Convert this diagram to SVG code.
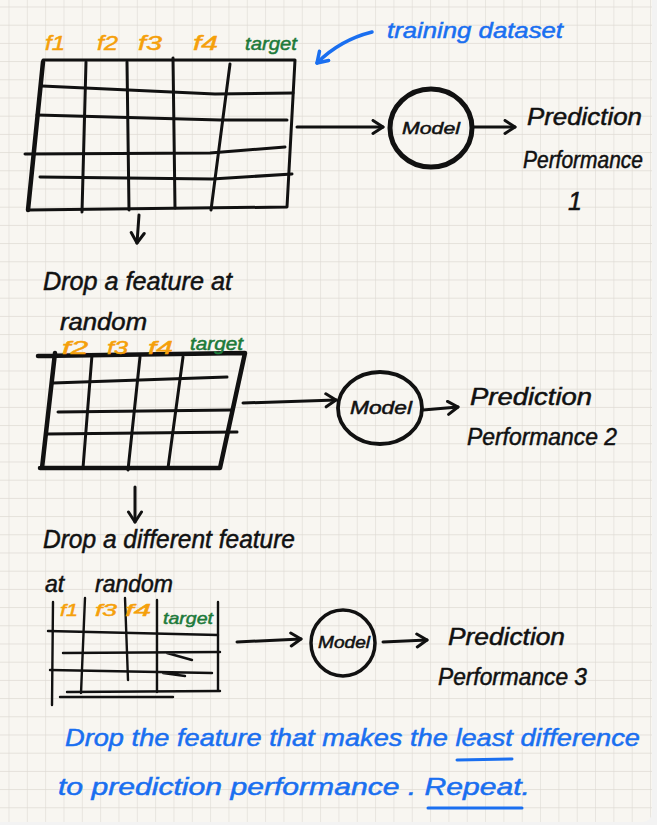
<svg xmlns="http://www.w3.org/2000/svg" width="657" height="825" viewBox="0 0 657 825">
<style>
.ink{fill:none;stroke:#111;stroke-width:3;stroke-linecap:round;stroke-linejoin:round}
.thick{stroke-width:4.5}
.thin{stroke-width:2.4}
.hw{font-family:"Liberation Sans","DejaVu Sans",sans-serif;font-style:italic;fill:#111;stroke:#111;stroke-width:0.5}
.org{fill:#f5a00a;stroke:#f5a00a}
.grn{fill:#1d7a3a;stroke:#1d7a3a}
.blu{fill:#1a6ff0;stroke:#1a6ff0}
.conn{fill:none;stroke:#111;stroke-width:3;stroke-linecap:round}
</style>
<defs>
<pattern id="grid" patternUnits="userSpaceOnUse" x="8.5" y="6.5" width="18.33" height="18.2">
<path d="M0 0H18.33M0 0V18.2" fill="none" stroke="#dedad3" stroke-width="1.2"/>
</pattern>
<marker id="ah" markerUnits="userSpaceOnUse" markerWidth="20" markerHeight="20" refX="12" refY="8" orient="auto">
<path d="M2 1.5L12 8L2 14.5" fill="none" stroke="#111" stroke-width="3" stroke-linecap="round" stroke-linejoin="round"/>
</marker>
<marker id="ahb" markerUnits="userSpaceOnUse" markerWidth="20" markerHeight="20" refX="12" refY="8" orient="auto">
<path d="M2 1.5L12 8L2 14.5" fill="none" stroke="#1a6ff0" stroke-width="3.5" stroke-linecap="round" stroke-linejoin="round"/>
</marker>
</defs>
<rect x="0" y="0" width="657" height="825" fill="#f3f3f3"/>
<rect x="-10" y="-10" width="662" height="832" rx="9" fill="#f8f6f1"/>
<rect x="-10" y="-10" width="662" height="832" rx="9" fill="url(#grid)"/>

<g id="table1">
<path class="ink thick" d="M43 62L28 210"/>
<path class="ink" d="M43 60L295 60L287 207L28 210"/>
<path class="ink" d="M86 62L82 212M127 62L129 210M173 58L175 208M230 64L211 210"/>
<path class="ink" d="M42 86L215 94L293 93M37 115L220 120L287 120M25 154L210 153L285 147M40 177L212 179L292 174"/>
<text class="hw org" x="45" y="50" font-size="21" textLength="20" lengthAdjust="spacingAndGlyphs">f1</text>
<text class="hw org" x="97" y="50" font-size="21" textLength="21" lengthAdjust="spacingAndGlyphs">f2</text>
<text class="hw org" x="138" y="50" font-size="21" textLength="24" lengthAdjust="spacingAndGlyphs">f3</text>
<text class="hw org" x="193" y="50" font-size="21" textLength="25" lengthAdjust="spacingAndGlyphs">f4</text>
<text class="hw grn" x="245" y="50" font-size="19" textLength="52" lengthAdjust="spacingAndGlyphs">target</text>
</g>

<g id="annotation">
<text class="hw blu" x="387" y="38" font-size="22" textLength="176" lengthAdjust="spacingAndGlyphs">training dataset</text>
</g>

<g id="model1">
<ellipse cx="431" cy="128" rx="41" ry="39" fill="none" stroke="#111" stroke-width="5"/>
<text class="hw" x="431" y="134" font-size="17" text-anchor="middle" textLength="58" lengthAdjust="spacingAndGlyphs">Model</text>
</g>

<g id="perf1">
<text class="hw" x="527" y="125" font-size="23" textLength="115" lengthAdjust="spacingAndGlyphs">Prediction</text>
<text class="hw" x="523" y="168" font-size="23" textLength="120" lengthAdjust="spacingAndGlyphs">Performance</text>
<text class="hw" x="575" y="210" font-size="25" text-anchor="middle">1</text>
</g>

<g id="step1">
<text class="hw" x="43" y="290" font-size="25" textLength="189" lengthAdjust="spacingAndGlyphs">Drop a feature at</text>
<text class="hw" x="60" y="330" font-size="23" textLength="87" lengthAdjust="spacingAndGlyphs">random</text>
</g>

<g id="table2">
<path class="ink thick" d="M38 356L245 353L220 468L40 468M55 353L42 468"/>
<path class="ink" d="M92 355L83 468M140 357L128 470M183 357L168 468"/>
<path class="ink" d="M53 383L227 377M58 412L232 410M47 434L237 432"/>
<text class="hw org" x="62" y="354" font-size="18" textLength="26" lengthAdjust="spacingAndGlyphs">f2</text>
<text class="hw org" x="107" y="354" font-size="18" textLength="21" lengthAdjust="spacingAndGlyphs">f3</text>
<text class="hw org" x="148" y="354" font-size="18" textLength="25" lengthAdjust="spacingAndGlyphs">f4</text>
<text class="hw grn" x="190" y="350" font-size="18" textLength="53" lengthAdjust="spacingAndGlyphs">target</text>
</g>

<g id="model2">
<ellipse cx="380" cy="408" rx="42" ry="36" fill="none" stroke="#111" stroke-width="3.8"/>
<text class="hw" x="381" y="414" font-size="18" text-anchor="middle" textLength="62" lengthAdjust="spacingAndGlyphs">Model</text>
</g>

<g id="perf2">
<text class="hw" x="470" y="405" font-size="23" textLength="122" lengthAdjust="spacingAndGlyphs">Prediction</text>
<text class="hw" x="467" y="445" font-size="23" textLength="150" lengthAdjust="spacingAndGlyphs">Performance 2</text>
</g>

<g id="step2">
<text class="hw" x="43" y="548" font-size="25" textLength="252" lengthAdjust="spacingAndGlyphs">Drop a different feature</text>
<text class="hw" x="45" y="592" font-size="23">at <tspan x="95">random</tspan></text>
</g>

<g id="table3">
<path class="ink thin" d="M53 602L52 705M85 598L81 693M125 598L128 680M157 600L157 692M218 602L218 690"/>
<path class="ink thin" d="M48 631L218 635M63 653L220 652M167 653L192 660M50 670L212 673M163 673L185 676M67 692L220 691M60 697L173 697"/>
<text class="hw org" x="60" y="616" font-size="17" textLength="18" lengthAdjust="spacingAndGlyphs">f1</text>
<text class="hw org" x="95" y="616" font-size="17" textLength="22" lengthAdjust="spacingAndGlyphs">f3</text>
<text class="hw org" x="125" y="616" font-size="17" textLength="26" lengthAdjust="spacingAndGlyphs">f4</text>
<text class="hw grn" x="163" y="624" font-size="17" textLength="50" lengthAdjust="spacingAndGlyphs">target</text>
</g>

<g id="model3">
<ellipse cx="343" cy="643" rx="32" ry="33" fill="none" stroke="#111" stroke-width="3.5"/>
<text class="hw" x="344" y="648" font-size="16" text-anchor="middle" textLength="52" lengthAdjust="spacingAndGlyphs">Model</text>
</g>

<g id="perf3">
<text class="hw" x="448" y="645" font-size="23" textLength="117" lengthAdjust="spacingAndGlyphs">Prediction</text>
<text class="hw" x="438" y="685" font-size="23" textLength="149" lengthAdjust="spacingAndGlyphs">Performance 3</text>
</g>

<g id="conclusion">
<text class="hw blu" x="65" y="746" font-size="24" textLength="575" lengthAdjust="spacingAndGlyphs">Drop the feature that makes the least difference</text>
<text class="hw blu" x="58" y="795" font-size="24" textLength="472" lengthAdjust="spacingAndGlyphs">to prediction performance . Repeat.</text>
<path d="M457 760L512 759M428 808L522 808" fill="none" stroke="#1a6ff0" stroke-width="3" stroke-linecap="round"/>
</g>

<g id="connectors">
<path d="M372 32Q340 40 317 63" fill="none" stroke="#1a6ff0" stroke-width="3.5" stroke-linecap="round" marker-end="url(#ahb)"/>
<path class="conn" d="M297 127L383 127" marker-end="url(#ah)"/>
<path class="conn" d="M472 127L515 127" marker-end="url(#ah)"/>
<path class="conn" d="M139 215L137 243" marker-end="url(#ah)"/>
<path class="conn" d="M243 403L336 400" marker-end="url(#ah)"/>
<path class="conn" d="M423 410L458 407" marker-end="url(#ah)"/>
<path class="conn" d="M135 487L135 522" marker-end="url(#ah)"/>
<path class="conn" d="M237 642L301 639" marker-end="url(#ah)"/>
<path class="conn" d="M383 642L427 640" marker-end="url(#ah)"/>
</g>
</svg>
